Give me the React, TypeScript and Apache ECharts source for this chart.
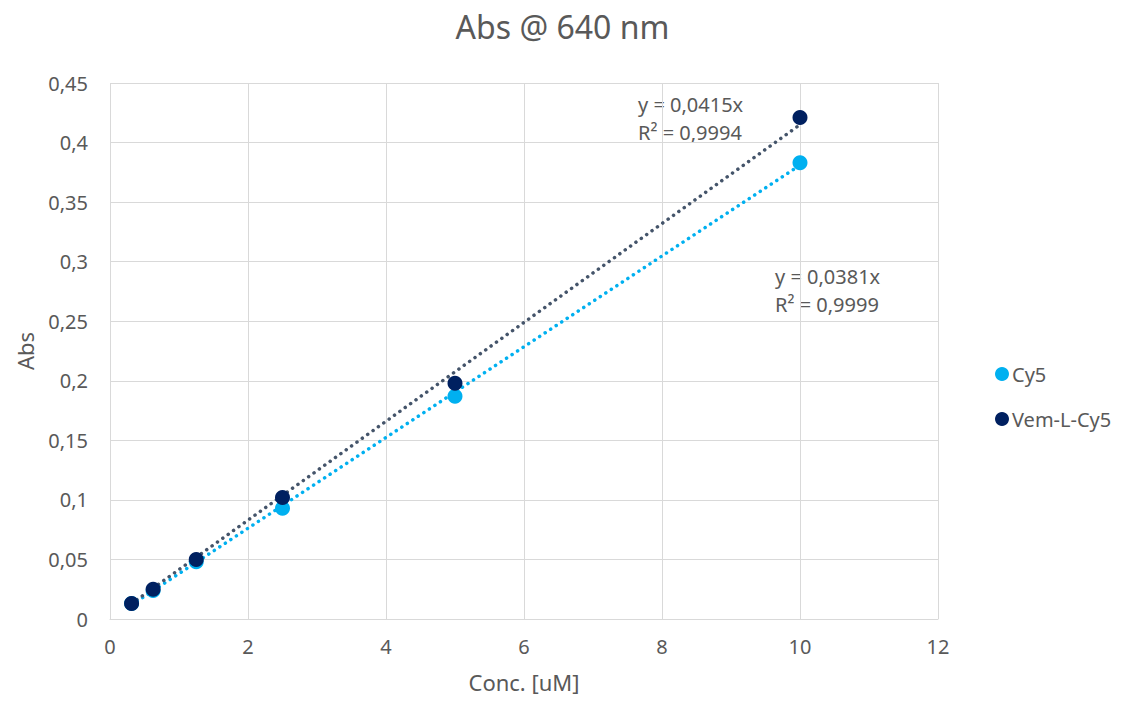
import React, { useEffect, useRef } from "react";
import * as echarts from "echarts";

const concentrations = [0.3125, 0.625, 1.25, 2.5, 5, 10];
const cy5Values = [0.013, 0.024, 0.048, 0.093, 0.187, 0.383];
const vemValues = [0.013, 0.025, 0.050, 0.102, 0.198, 0.421];
const cy5Slope = 0.0381;
const vemSlope = 0.0415;
const cy5Label = ["y = 0,0381x", "R² = 0,9999"];
const vemLabel = ["y = 0,0415x", "R² = 0,9994"];
const seriesNames = ["Cy5", "Vem-L-Cy5"];

const FONT = "Noto Sans";
const TXT = "#595959";

export default function App() {
  const ref = useRef<HTMLDivElement>(null);
  useEffect(() => {
    if (!ref.current) return;
    const chart = echarts.init(ref.current, null, { renderer: "svg" });
    const xMin = concentrations[0];
    const xMax = concentrations[concentrations.length - 1];
    const fmt = (v: number) => String(Math.round(v * 1000) / 1000).replace(".", ",");
    chart.setOption({
      animation: false,
      textStyle: { fontFamily: FONT },
      title: {
        text: "Abs @ 640 nm",
        left: "center",
        top: 5,
        textStyle: { fontFamily: FONT, fontSize: 32, fontWeight: "normal", color: TXT },
      },
      legend: {
        orient: "vertical",
        left: 990,
        top: 359,
        itemGap: 25,
        itemWidth: 14,
        itemHeight: 14,
        icon: "circle",
        data: seriesNames,
        textStyle: { fontFamily: FONT, fontSize: 20, color: TXT, padding: [0, 0, 0, -2] },
      },
      grid: { left: 110, right: 187, top: 83, bottom: 85, containLabel: false },
      xAxis: {
        type: "value",
        min: 0,
        max: 12,
        interval: 2,
        name: "Conc. [uM]",
        nameLocation: "middle",
        nameGap: 52,
        nameTextStyle: { fontFamily: FONT, fontSize: 22, color: TXT },
        axisLine: { show: true, lineStyle: { color: "#d9d9d9", width: 1 } },
        axisTick: { show: false },
        axisLabel: { fontFamily: FONT, fontSize: 20, color: TXT, margin: 17, formatter: fmt },
        splitLine: { show: true, lineStyle: { color: "#d9d9d9", width: 1 } },
      },
      yAxis: {
        type: "value",
        min: 0,
        max: 0.45,
        interval: 0.05,
        name: "Abs",
        nameLocation: "middle",
        nameGap: 74,
        nameTextStyle: { fontFamily: FONT, fontSize: 22, color: TXT },
        axisLine: { show: false },
        axisTick: { show: false },
        axisLabel: { fontFamily: FONT, fontSize: 20, color: TXT, margin: 22, formatter: fmt },
        splitLine: { show: true, lineStyle: { color: "#d9d9d9", width: 1 } },
      },
      series: [
        {
          name: "Cy5 trend",
          type: "line",
          data: [[xMin, cy5Slope * xMin], [xMax, cy5Slope * xMax]],
          symbol: "none",
          lineStyle: { color: "#00B0F0", width: 3.5, type: [0.1, 6.5], cap: "round" },
          z: 2,
          silent: true,
        },
        {
          name: "Vem trend",
          type: "line",
          data: [[xMin, vemSlope * xMin], [xMax, vemSlope * xMax]],
          symbol: "none",
          lineStyle: { color: "#44546A", width: 3.5, type: [0.1, 6.5], cap: "round" },
          z: 2,
          silent: true,
        },
        {
          name: seriesNames[0],
          type: "scatter",
          data: concentrations.map((x, i) => [x, cy5Values[i]]),
          symbolSize: 15,
          itemStyle: { color: "#00B0F0", opacity: 1 },
          z: 3,
        },
        {
          name: seriesNames[1],
          type: "scatter",
          data: concentrations.map((x, i) => [x, vemValues[i]]),
          symbolSize: 15,
          itemStyle: { color: "#002060", opacity: 1 },
          z: 4,
        },
      ],
      graphic: [
        {
          type: "text",
          left: 638,
          top: 90,
          style: { text: vemLabel.join("\n"), fontFamily: FONT, fontSize: 20, fill: TXT, lineHeight: 28 },
        },
        {
          type: "text",
          left: 775,
          top: 262,
          style: { text: cy5Label.join("\n"), fontFamily: FONT, fontSize: 20, fill: TXT, lineHeight: 28 },
        },
      ],
    });
    return () => chart.dispose();
  }, []);
  return <div ref={ref} style={{ width: 1125, height: 704, margin: -8 }} />;
}
